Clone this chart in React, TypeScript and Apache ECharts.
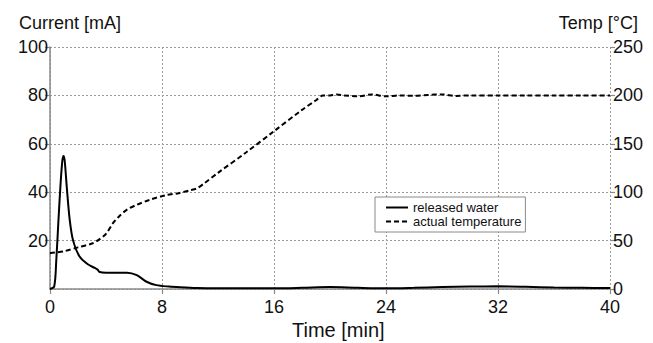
import React, { useEffect, useRef } from "react";
import * as echarts from "echarts";

const xTicks = [0, 8, 16, 24, 32, 40];
const leftTicks = [0, 20, 40, 60, 80, 100];
const rightTicks = [0, 50, 100, 150, 200, 250];

const currentTime = [0, 0.3, 0.45, 0.6, 0.75, 0.88, 0.97, 1.05, 1.2, 1.4, 1.65, 2.1, 2.7, 3.2, 3.4, 3.55, 4.0, 5.5, 6.2, 6.9, 7.6, 8.5, 9.3, 10.5, 12, 14, 16, 18, 20, 22, 24, 26, 28, 30, 32, 34, 36, 38, 40];
const currentValue = [0, 1, 12, 28, 43, 53, 55, 53, 42, 29, 20, 13.5, 10.2, 8.7, 8.0, 7.0, 6.7, 6.7, 5.7, 3.0, 1.6, 1.0, 0.7, 0.4, 0.3, 0.3, 0.3, 0.5, 0.8, 0.5, 0.3, 0.5, 0.8, 1.0, 1.1, 0.9, 0.6, 0.5, 0.4];

const tempTime = [0, 1, 2, 3, 3.5, 4, 4.5, 5, 5.5, 6.2, 7.1, 8.3, 9.2, 10, 10.5, 11, 12, 14, 16, 18, 19, 19.5, 20, 20.5, 21, 22, 23, 24, 25, 26, 27, 28, 29, 30, 32, 34, 36, 38, 40];
const tempValue = [37, 39, 43, 47, 51, 57, 68, 76, 82, 87, 92, 97, 99, 102, 104, 109, 120, 141, 163, 185, 195, 200, 200, 201, 200, 199, 201, 199, 200, 199.5, 200.5, 201, 199.5, 200, 200, 200, 200, 200, 200];

const seriesNames = ["released water", "actual temperature"];
const axisTitles = { left: "Current [mA]", right: "Temp [°C]", bottom: "Time [min]" };

const FONT = '"Liberation Sans", Arial, Helvetica, sans-serif';

export default function App() {
  const ref = useRef<HTMLDivElement>(null);
  useEffect(() => {
    if (!ref.current) return;
    const chart = echarts.init(ref.current, undefined, { renderer: "svg" });
    const gridLine = { show: true, lineStyle: { color: "#9a9a9a", type: [2, 2], width: 1 } };
    const axisLineStyle = { show: true, lineStyle: { color: "#8a8a8a", width: 1.5 } };
    const tick = { show: true, length: 5, lineStyle: { color: "#8a8a8a", width: 1.2 } };
    chart.setOption({
      animation: false,
      textStyle: { fontFamily: FONT },
      grid: { left: 50, right: 43, top: 47, bottom: 54 },
      legend: {
        orient: "vertical",
        left: 375,
        top: 197,
        data: seriesNames,
        itemWidth: 22,
        itemHeight: 12,
        itemGap: 1,
        padding: [4, 4, 4, 10],
        borderColor: "#8a8a8a",
        borderWidth: 1,
        backgroundColor: "#fff",
        itemStyle: { opacity: 0 },
        textStyle: { fontSize: 13, color: "#111", fontFamily: FONT },
      },
      xAxis: {
        type: "value",
        min: xTicks[0],
        max: xTicks[xTicks.length - 1],
        interval: xTicks[1] - xTicks[0],
        axisLine: axisLineStyle,
        axisTick: tick,
        splitLine: gridLine,
        axisLabel: { fontSize: 18, color: "#111", margin: 9, fontFamily: FONT },
      },
      yAxis: [
        {
          type: "value",
          min: leftTicks[0],
          max: leftTicks[leftTicks.length - 1],
          interval: leftTicks[1] - leftTicks[0],
          axisLine: axisLineStyle,
          axisTick: tick,
          splitLine: gridLine,
          axisLabel: { fontSize: 18, color: "#111", margin: 2, showMinLabel: false, fontFamily: FONT },
        },
        {
          type: "value",
          position: "right",
          min: rightTicks[0],
          max: rightTicks[rightTicks.length - 1],
          interval: rightTicks[1] - rightTicks[0],
          axisLine: { show: false },
          axisTick: tick,
          splitLine: { show: false },
          axisLabel: { fontSize: 18, color: "#111", margin: 3, fontFamily: FONT },
        },
      ],
      graphic: [
        { type: "text", left: 19, top: 14, style: { text: axisTitles.left, font: `18px ${FONT}`, fill: "#111" } },
        { type: "text", right: 15, top: 14, style: { text: axisTitles.right, font: `18px ${FONT}`, fill: "#111" } },
        { type: "text", left: 292, top: 320, style: { text: axisTitles.bottom, font: `20px ${FONT}`, fill: "#111" } },
      ],
      series: [
        {
          name: seriesNames[0],
          type: "line",
          yAxisIndex: 0,
          data: currentTime.map((t, i) => [t, currentValue[i]]),
          smooth: 0.3,
          symbol: "none",
          lineStyle: { color: "#000", width: 2 },
          itemStyle: { color: "#000" },
        },
        {
          name: seriesNames[1],
          type: "line",
          yAxisIndex: 1,
          data: tempTime.map((t, i) => [t, tempValue[i]]),
          smooth: 0.3,
          symbol: "none",
          lineStyle: { color: "#000", width: 2, type: [5, 3] },
          itemStyle: { color: "#000" },
        },
      ],
    });
    return () => chart.dispose();
  }, []);
  return <div ref={ref} style={{ width: 653, height: 343, position: "absolute", left: 0, top: 0 }} />;
}
